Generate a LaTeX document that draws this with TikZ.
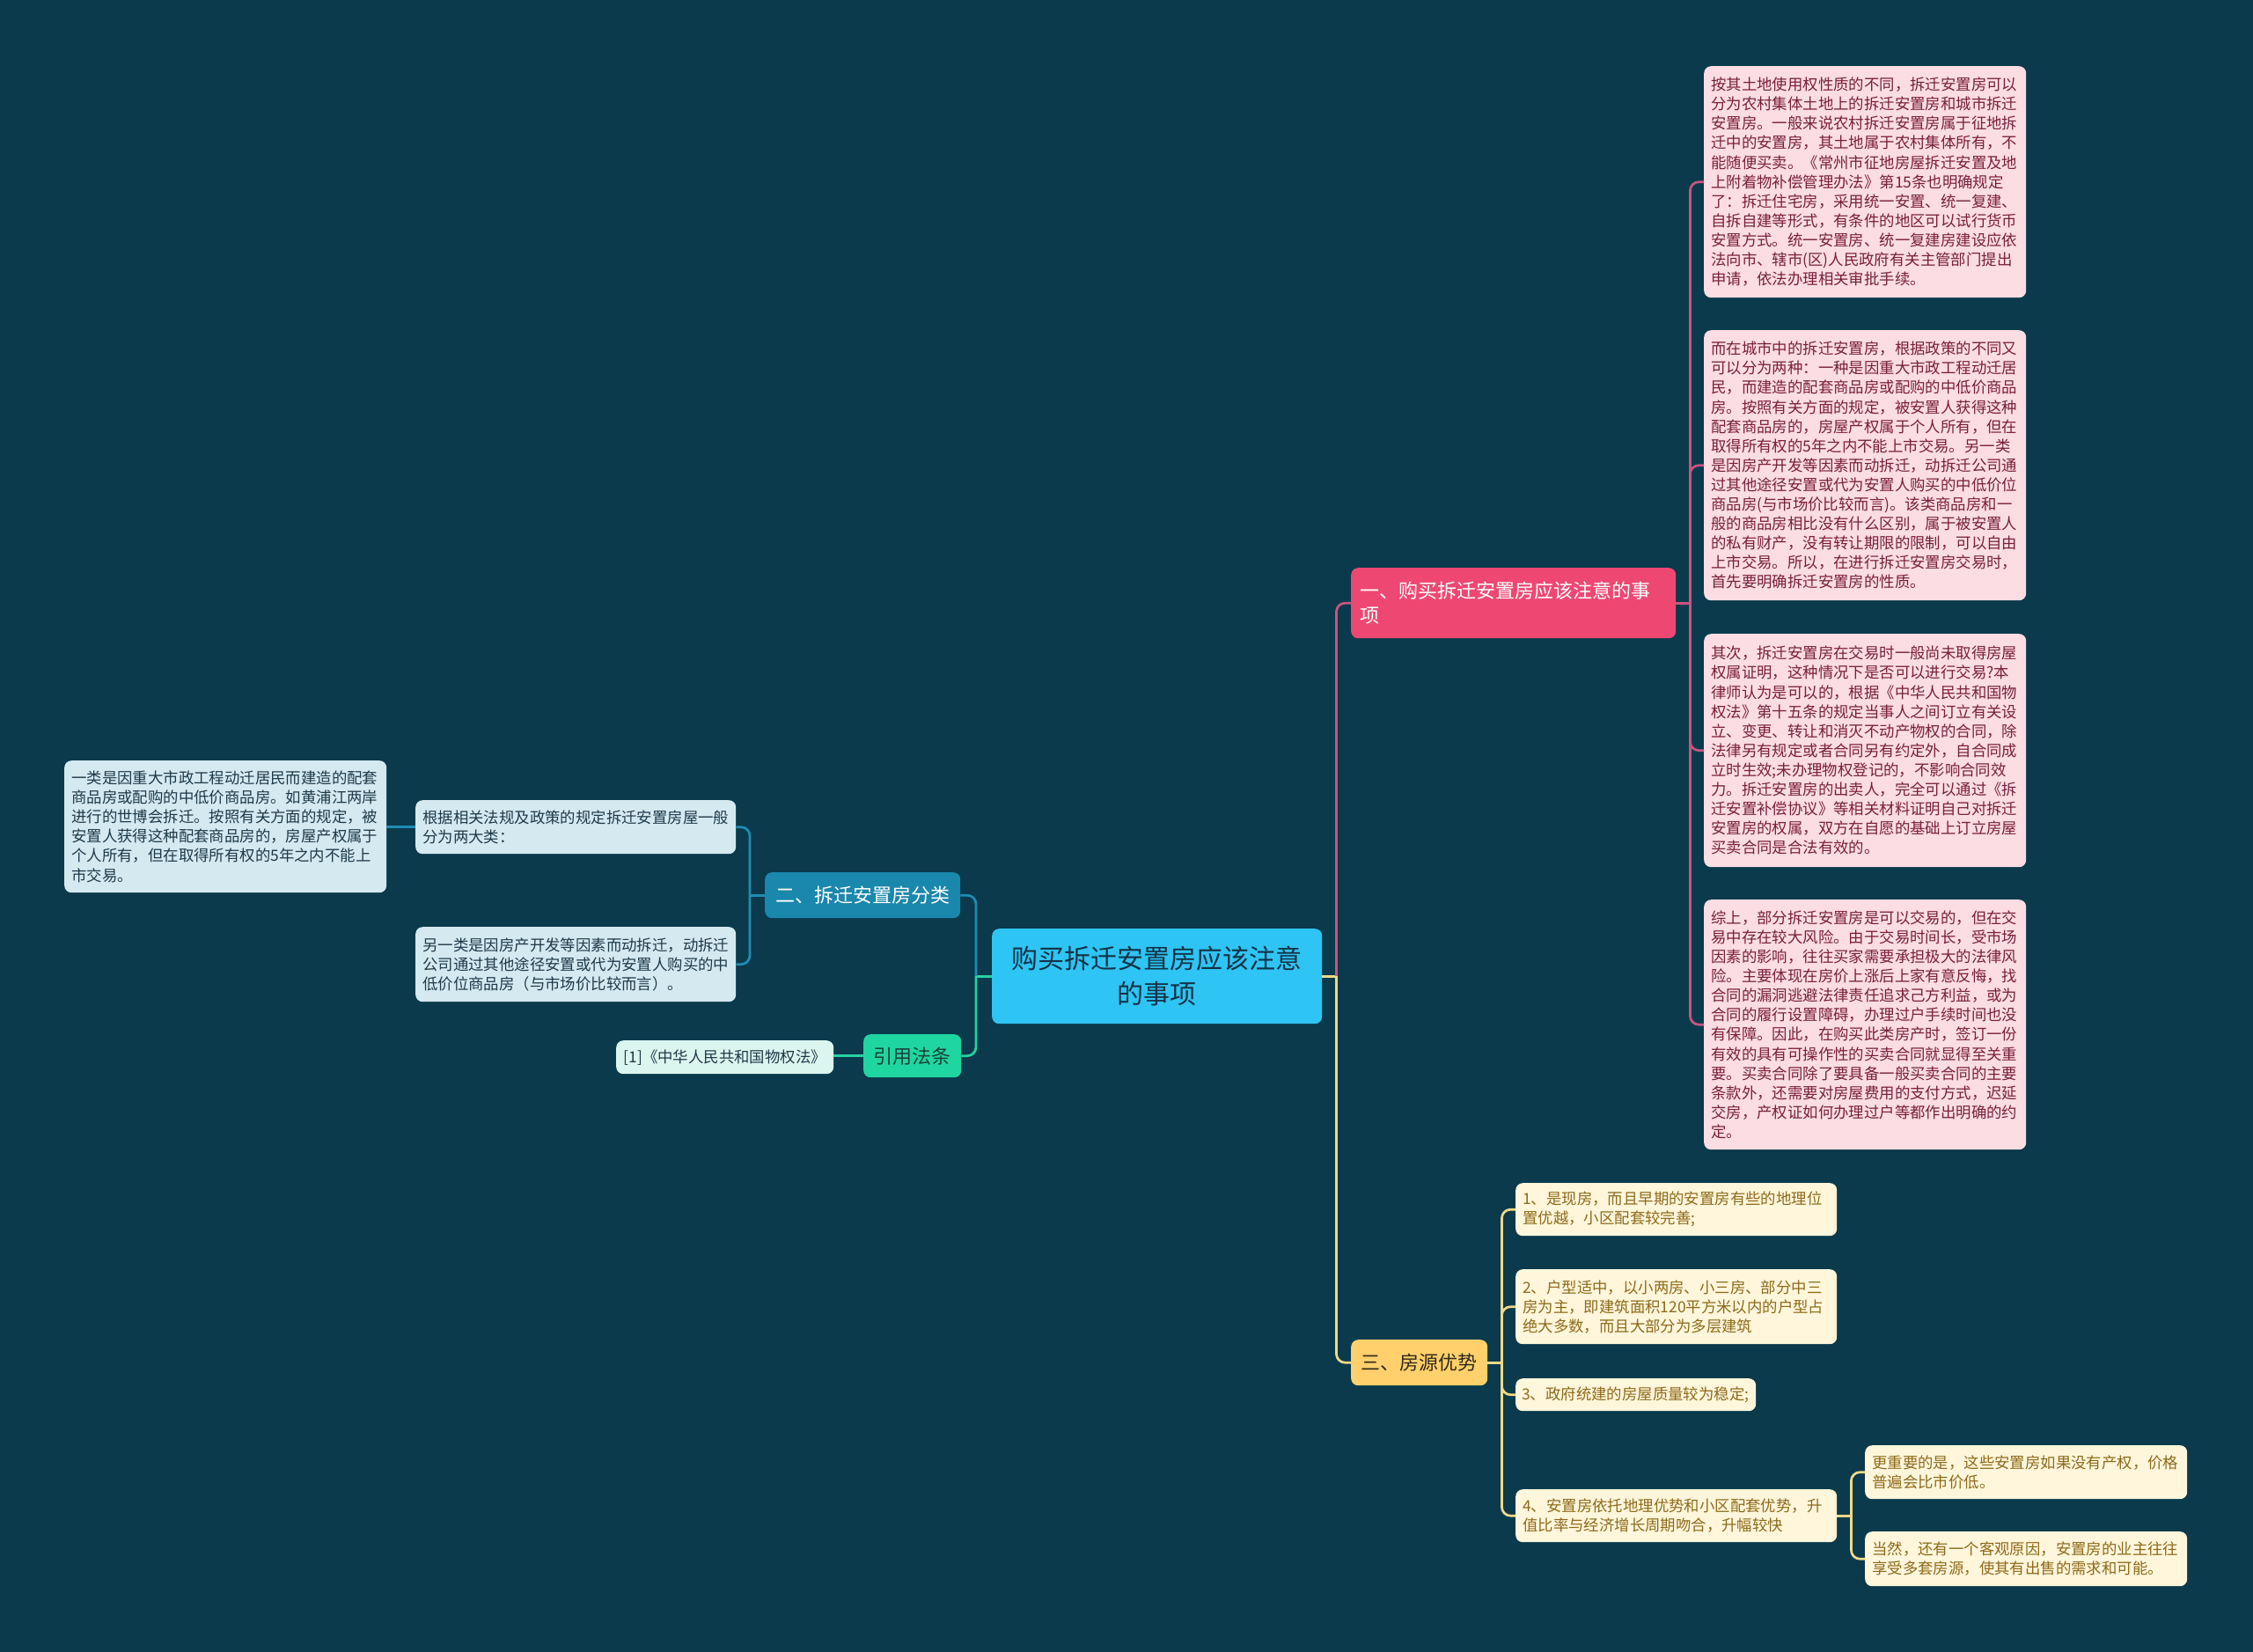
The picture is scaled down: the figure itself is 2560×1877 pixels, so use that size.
\documentclass[tikz,border=0pt]{standalone}
\usepackage{fontspec}
\setmainfont{Noto Sans CJK SC}
\usetikzlibrary{calc}
\definecolor{bg}{HTML}{0A3A4C}
\definecolor{rootfill}{HTML}{2EC4F3}
\definecolor{roottext}{HTML}{143246}
\definecolor{pinkfill}{HTML}{EE4872}
\definecolor{pinkbox}{HTML}{FBDDE3}
\definecolor{pinktext}{HTML}{7A1F3D}
\definecolor{pinkline}{HTML}{C8557F}
\definecolor{bluefill}{HTML}{1A87AC}
\definecolor{bluebox}{HTML}{D5E9F1}
\definecolor{bluetext}{HTML}{1E3A48}
\definecolor{blueline}{HTML}{1E8DB3}
\definecolor{greenfill}{HTML}{1FD6A0}
\definecolor{greenbox}{HTML}{DBF6EF}
\definecolor{greentext}{HTML}{17403E}
\definecolor{greenline}{HTML}{26D2A2}
\definecolor{yellowfill}{HTML}{FFD06B}
\definecolor{yellowbox}{HTML}{FFF6DB}
\definecolor{yellowtext}{HTML}{8E6A1A}
\definecolor{yellowdark}{HTML}{30291A}
\definecolor{yellowline}{HTML}{F2D985}
\begin{document}
\begin{tikzpicture}[x=1pt,y=-1pt,
  detail/.style={anchor=north west, rounded corners=8pt, inner xsep=8pt, inner ysep=0pt,
    align=left, font=\fontsize{17.4pt}{22.1pt}\selectfont},
  branch/.style={anchor=north west, rounded corners=8pt, inner sep=0pt, align=center,
    font=\fontsize{22pt}{28pt}\selectfont},
  conn/.style={line width=2.7pt},
  rconn/.style={line width=2.7pt, rounded corners=10pt}]
\fill[bg] (0,0) rectangle (2560,1877);

% root
\node[anchor=north west, rounded corners=8pt, fill=rootfill, text=roottext, inner sep=0pt,
  minimum width=375pt, minimum height=108pt, align=center, text width=355pt,
  font=\fontsize{30pt}{40pt}\selectfont] (root) at (1127,1055) {购买拆迁安置房应该注意\\的事项};

% branch 1
\node[branch, fill=pinkfill, text=white, minimum width=369pt, minimum height=80pt,
  text width=349pt, align=left] (b1) at (1535,645) {一、购买拆迁安置房应该注意的事\\项};
% branch 2
\node[branch, fill=bluefill, text=white, minimum width=222pt, minimum height=52pt] (b2) at (869,991) {二、拆迁安置房分类};
% cite
\node[branch, fill=greenfill, text=greentext, minimum width=111pt, minimum height=49pt] (cite) at (981,1175) {引用法条};
% branch 3
\node[branch, fill=yellowfill, text=yellowdark, minimum width=155pt, minimum height=52pt] (b3) at (1535,1522) {三、房源优势};

% pink details
\tikzset{pinkd/.style={detail, fill=pinkbox, text=pinktext, minimum width=366pt, text width=350pt}}
\node[pinkd, minimum height=263pt] (p1) at (1936,75) {按其土地使用权性质的不同，拆迁安置房可以\\分为农村集体土地上的拆迁安置房和城市拆迁\\安置房。一般来说农村拆迁安置房属于征地拆\\迁中的安置房，其土地属于农村集体所有，不\\能随便买卖。《常州市征地房屋拆迁安置及地\\上附着物补偿管理办法》第15条也明确规定\\了：拆迁住宅房，采用统一安置、统一复建、\\自拆自建等形式，有条件的地区可以试行货币\\安置方式。统一安置房、统一复建房建设应依\\法向市、辖市(区)人民政府有关主管部门提出\\申请，依法办理相关审批手续。};
\node[pinkd, minimum height=307pt] (p2) at (1936,375) {而在城市中的拆迁安置房，根据政策的不同又\\可以分为两种：一种是因重大市政工程动迁居\\民，而建造的配套商品房或配购的中低价商品\\房。按照有关方面的规定，被安置人获得这种\\配套商品房的，房屋产权属于个人所有，但在\\取得所有权的5年之内不能上市交易。另一类\\是因房产开发等因素而动拆迁，动拆迁公司通\\过其他途径安置或代为安置人购买的中低价位\\商品房(与市场价比较而言)。该类商品房和一\\般的商品房相比没有什么区别，属于被安置人\\的私有财产，没有转让期限的限制，可以自由\\上市交易。所以，在进行拆迁安置房交易时，\\首先要明确拆迁安置房的性质。};
\node[pinkd, minimum height=265pt] (p3) at (1936,720) {其次，拆迁安置房在交易时一般尚未取得房屋\\权属证明，这种情况下是否可以进行交易?本\\律师认为是可以的，根据《中华人民共和国物\\权法》第十五条的规定当事人之间订立有关设\\立、变更、转让和消灭不动产物权的合同，除\\法律另有规定或者合同另有约定外，自合同成\\立时生效;未办理物权登记的，不影响合同效\\力。拆迁安置房的出卖人，完全可以通过《拆\\迁安置补偿协议》等相关材料证明自己对拆迁\\安置房的权属，双方在自愿的基础上订立房屋\\买卖合同是合法有效的。};
\node[pinkd, minimum height=284pt] (p4) at (1936,1022) {综上，部分拆迁安置房是可以交易的，但在交\\易中存在较大风险。由于交易时间长，受市场\\因素的影响，往往买家需要承担极大的法律风\\险。主要体现在房价上涨后上家有意反悔，找\\合同的漏洞逃避法律责任追求己方利益，或为\\合同的履行设置障碍，办理过户手续时间也没\\有保障。因此，在购买此类房产时，签订一份\\有效的具有可操作性的买卖合同就显得至关重\\要。买卖合同除了要具备一般买卖合同的主要\\条款外，还需要对房屋费用的支付方式，迟延\\交房，产权证如何办理过户等都作出明确的约\\定。};

% blue details
\tikzset{blued/.style={detail, fill=bluebox, text=bluetext}}
\node[blued, minimum width=364pt, text width=348pt, minimum height=61pt] (l1) at (472,909) {根据相关法规及政策的规定拆迁安置房屋一般\\分为两大类：};
\node[blued, minimum width=364pt, text width=348pt, minimum height=85pt] (l2) at (472,1053) {另一类是因房产开发等因素而动拆迁，动拆迁\\公司通过其他途径安置或代为安置人购买的中\\低价位商品房（与市场价比较而言）。};
\node[blued, minimum width=366pt, text width=350pt, minimum height=150pt] (l0) at (73,864) {一类是因重大市政工程动迁居民而建造的配套\\商品房或配购的中低价商品房。如黄浦江两岸\\进行的世博会拆迁。按照有关方面的规定，被\\安置人获得这种配套商品房的，房屋产权属于\\个人所有，但在取得所有权的5年之内不能上\\市交易。};

% cite detail
\node[detail, fill=greenbox, text=bluetext, minimum width=247pt, minimum height=38pt, align=center, inner xsep=0pt] (c1) at (700,1182) {[1]《中华人民共和国物权法》};

% yellow details
\tikzset{yellowd/.style={detail, fill=yellowbox, text=yellowtext}}
\node[yellowd, minimum width=365pt, text width=349pt, minimum height=60pt] (y1) at (1722,1344) {1、是现房，而且早期的安置房有些的地理位\\置优越，小区配套较完善;};
\node[yellowd, minimum width=365pt, text width=349pt, minimum height=85pt] (y2) at (1722,1442) {2、户型适中，以小两房、小三房、部分中三\\房为主，即建筑面积120平方米以内的户型占\\绝大多数，而且大部分为多层建筑};
\node[yellowd, minimum width=273pt, text width=259pt, inner xsep=7pt, minimum height=37pt] (y3) at (1722,1566) {3、政府统建的房屋质量较为稳定;};
\node[yellowd, minimum width=365pt, text width=349pt, minimum height=60pt] (y4) at (1722,1692) {4、安置房依托地理优势和小区配套优势，升\\值比率与经济增长周期吻合，升幅较快};
\node[yellowd, minimum width=366pt, text width=350pt, minimum height=61pt] (y5) at (2119,1642) {更重要的是，这些安置房如果没有产权，价格\\普遍会比市价低。};
\node[yellowd, minimum width=366pt, text width=350pt, minimum height=62pt] (y6) at (2119,1740) {当然，还有一个客观原因，安置房的业主往往\\享受多套房源，使其有出售的需求和可能。};

% connectors: root to branches
\coordinate (rR) at ($(root.east)+(16,0)$);
\coordinate (rL) at ($(root.west)+(-18,0)$);
\draw[conn, yellowline] (root.east) -- (rR);
\draw[rconn, pinkline] (rR) |- (b1.west);
\draw[rconn, yellowline] (rR) |- (b3.west);
\draw[conn, greenline] (root.west) -- (rL);
\draw[rconn, blueline] (rL) |- (b2.east);
\draw[rconn, greenline] (rL) |- (cite.east);

% branch 1 children
\coordinate (j1) at ($(b1.east)+(16,0)$);
\draw[conn, pinkline] (b1.east) -- (j1);
\foreach \n in {p1,p2,p3,p4} \draw[rconn, pinkline] (j1) |- (\n.west);

% branch 2 children
\coordinate (j2) at ($(b2.west)+(-17,0)$);
\draw[conn, blueline] (b2.west) -- (j2);
\foreach \n in {l1,l2} \draw[rconn, blueline] (j2) |- (\n.east);
\draw[conn, blueline] (l1.west) -- (l1.west -| l0.east);

% cite child
\draw[conn, greenline] (cite.west) -- (cite.west -| c1.east);

% branch 3 children
\coordinate (j3) at ($(b3.east)+(16,0)$);
\draw[conn, yellowline] (b3.east) -- (j3);
\foreach \n in {y1,y2,y3,y4} \draw[rconn, yellowline] (j3) |- (\n.west);

% y4 children
\coordinate (j4) at ($(y4.east)+(16,0)$);
\draw[conn, yellowline] (y4.east) -- (j4);
\foreach \n in {y5,y6} \draw[rconn, yellowline] (j4) |- (\n.west);
\end{tikzpicture}
\end{document}
